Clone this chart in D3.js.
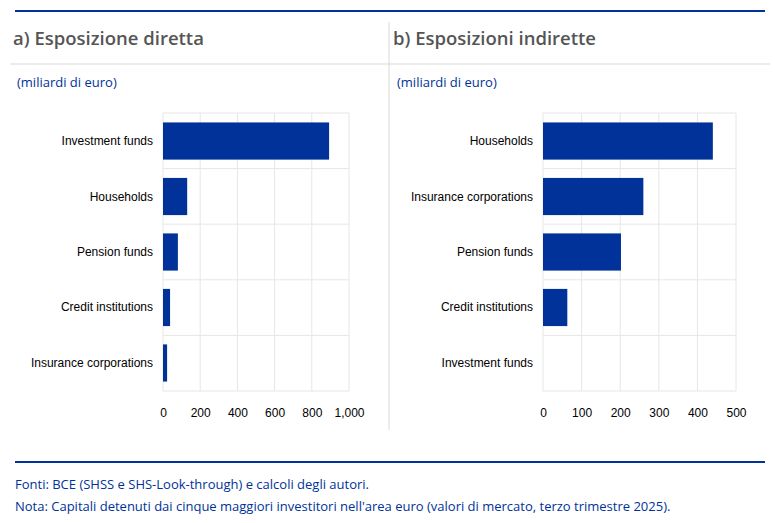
<!DOCTYPE html>
<html lang="en">
<head>
<meta charset="UTF-8">
<script src="https://cdnjs.cloudflare.com/ajax/libs/d3/7.8.5/d3.min.js"></script>
<style>
  body { margin: 0; background: #fff; }
</style>
</head>
<body>
<div id="draw-here"></div>
<script>
/* global d3 */
var w = 775, h = 523;
var blue = "#003299";

// left panel data
var catsA = ["Investment funds", "Households", "Pension funds", "Credit institutions", "Insurance corporations"];
var valsA = [893, 130, 80, 38, 22];
var ticksA = [0, 200, 400, 600, 800, 1000];

// right panel data
var catsB = ["Households", "Insurance corporations", "Pension funds", "Credit institutions", "Investment funds"];
var valsB = [440, 260, 202, 63, 0];
var ticksB = [0, 100, 200, 300, 400, 500];

var svg = d3.select("#draw-here").append("svg").attr("width", w).attr("height", h);

// frame lines
svg.append("line").attr("x1", 15).attr("x2", 765).attr("y1", 11).attr("y2", 11)
  .attr("stroke", blue).attr("stroke-width", 2);
svg.append("line").attr("x1", 10).attr("x2", 770).attr("y1", 64).attr("y2", 64)
  .attr("stroke", "#d9d9d9");
svg.append("line").attr("x1", 389).attr("x2", 389).attr("y1", 22).attr("y2", 430)
  .attr("stroke", "#d9d9d9");
svg.append("line").attr("x1", 15).attr("x2", 765).attr("y1", 462).attr("y2", 462)
  .attr("stroke", blue).attr("stroke-width", 2);

var font = "'Open Sans', sans-serif";
svg.append("text").attr("x", 13).attr("y", 45).text("a) Esposizione diretta")
  .attr("font-family", font).attr("font-size", 18.5).attr("font-weight", 600).attr("fill", "#555");
svg.append("text").attr("x", 393).attr("y", 45).text("b) Esposizioni indirette")
  .attr("font-family", font).attr("font-size", 18.5).attr("font-weight", 600).attr("fill", "#555");
svg.append("text").attr("x", 17).attr("y", 87).text("(miliardi di euro)")
  .attr("font-family", font).attr("font-size", 13).attr("fill", blue);
svg.append("text").attr("x", 397).attr("y", 87).text("(miliardi di euro)")
  .attr("font-family", font).attr("font-size", 13).attr("fill", blue);

svg.append("text").attr("x", 15).attr("y", 489).text("Fonti: BCE (SHSS e SHS-Look-through) e calcoli degli autori.")
  .attr("font-family", font).attr("font-size", 13).attr("fill", blue);
svg.append("text").attr("x", 15).attr("y", 511).text("Nota: Capitali detenuti dai cinque maggiori investitori nell'area euro (valori di mercato, terzo trimestre 2025).")
  .attr("font-family", font).attr("font-size", 13).attr("fill", blue);

function panel(cats, vals, ticks, x0, x1) {
  var x = d3.scaleLinear().domain([ticks[0], ticks[ticks.length - 1]]).range([x0, x1]);
  var y = d3.scaleBand().domain(cats).range([113, 391]).paddingInner(0.33).paddingOuter(0.17);
  var g = svg.append("g");
  var step = y.step();
  // grid
  g.selectAll(".vg").data(ticks).enter().append("line")
    .attr("x1", d => x(d)).attr("x2", d => x(d)).attr("y1", 113).attr("y2", 391)
    .attr("stroke", "#e6e6e6");
  var bounds = d3.range(cats.length + 1).map(i => 113 + i * (278 / cats.length));
  g.selectAll(".hg").data(bounds).enter().append("line")
    .attr("x1", x0).attr("x2", x1).attr("y1", d => d).attr("y2", d => d)
    .attr("stroke", "#e6e6e6");
  g.selectAll("rect").data(vals).enter().append("rect")
    .attr("x", x0).attr("y", (d, i) => y(cats[i]))
    .attr("width", d => x(d) - x0).attr("height", y.bandwidth())
    .attr("fill", "#003299");
  g.selectAll(".cl").data(cats).enter().append("text")
    .attr("x", x0 - 10).attr("y", d => y(d) + y.bandwidth() / 2 + 4)
    .attr("text-anchor", "end").attr("font-family", "Arial, 'Liberation Sans', sans-serif")
    .attr("font-size", 12).attr("fill", "#000").text(d => d);
  g.append("g").attr("transform", "translate(0,405)")
    .call(d3.axisBottom(x).tickValues(ticks).tickSize(0).tickFormat(d3.format(",")))
    .call(a => a.select(".domain").remove())
    .selectAll("text").attr("font-family", "Arial, 'Liberation Sans', sans-serif")
    .attr("font-size", 12).attr("fill", "#000");
}

panel(catsA, valsA, ticksA, 163, 349);
panel(catsB, valsB, ticksB, 543, 736);
</script>
</body>
</html>
